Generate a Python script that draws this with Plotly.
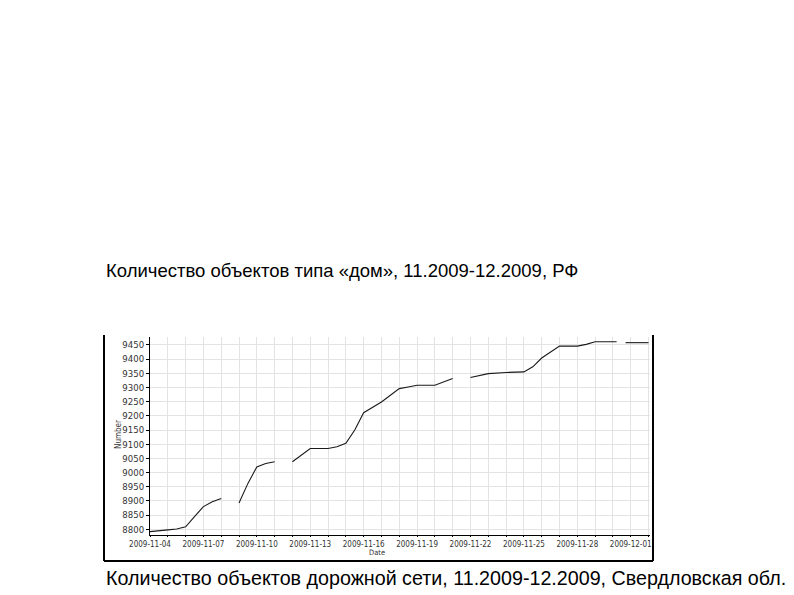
import plotly.graph_objects as go

# data (None = gap in the line)
dates = [
    "2009-11-04", "2009-11-04 12:00", "2009-11-05", "2009-11-05 12:00",
    "2009-11-06", "2009-11-06 12:00", "2009-11-07", "2009-11-07 12:00",
    "2009-11-08", "2009-11-08 12:00", "2009-11-09", "2009-11-09 12:00",
    "2009-11-10", "2009-11-10 12:00", "2009-11-11", "2009-11-11 12:00",
    "2009-11-12", "2009-11-12 12:00", "2009-11-13", "2009-11-13 12:00",
    "2009-11-14", "2009-11-14 12:00", "2009-11-15", "2009-11-15 12:00",
    "2009-11-16", "2009-11-17", "2009-11-18", "2009-11-18 12:00",
    "2009-11-19", "2009-11-20", "2009-11-21", "2009-11-21 12:00",
    "2009-11-22", "2009-11-23", "2009-11-24", "2009-11-24 12:00",
    "2009-11-25", "2009-11-25 12:00", "2009-11-26", "2009-11-27",
    "2009-11-28", "2009-11-28 12:00", "2009-11-29", "2009-11-30",
    "2009-11-30 05:00", "2009-11-30 10:00", "2009-11-30 17:00", "2009-12-01",
    "2009-12-02",
]
counts = [
    8792, 8794, 8798, 8801,
    8809, 8845, 8880, 8897,
    8909, None, 8893, 8962,
    9020, 9032, 9038, None,
    9038, 9062, 9085, 9085,
    9085, 9091, 9103, 9150,
    9211, 9249, 9296, 9302,
    9308, 9308, 9332, None,
    9335, 9349, 9353, 9353,
    9355, 9373, 9404, 9446,
    9446, 9452, 9461, 9461,
    9461, None, 9458, 9458,
    9458,
]

tick_days = ["2009-11-%02d" % d for d in range(4, 31)] + ["2009-12-01", "2009-12-02"]
tick_labels = ["2009-11-04", "2009-11-07", "2009-11-10", "2009-11-13", "2009-11-16",
               "2009-11-19", "2009-11-22", "2009-11-25", "2009-11-28", "2009-12-01"]
y_ticks = list(range(8800, 9451, 50))

W, H = 794, 595
OFF = 8  # the page body margin shifts the figure by 8px


def px(x):
    return (x - OFF) / W


def py(y):
    return 1 - (y - OFF) / H


fig = go.Figure()
fig.add_trace(go.Scatter(x=dates, y=counts, mode="lines", connectgaps=False,
                         line=dict(color="#1a1a1a", width=1.1), showlegend=False))

fig.update_xaxes(
    type="date", range=["2009-11-04", "2009-12-02 02:00"],
    domain=[px(150), px(650)],
    tickvals=tick_days,
    ticktext=[t if t in tick_labels else "" for t in tick_days],
    ticks="outside", ticklen=1, tickcolor="#000",
    showgrid=True, gridcolor="#e3e3e3", gridwidth=1,
    showline=True, linecolor="#000", linewidth=1,
    tickfont=dict(family="DejaVu Sans Condensed", size=8, color="#333"),
    zeroline=False, automargin=False,
)
fig.update_yaxes(
    range=[8780, 9478],
    domain=[py(535), py(337)],
    tickvals=y_ticks,
    ticks="outside", ticklen=3, tickcolor="#000",
    showgrid=True, gridcolor="#e3e3e3", gridwidth=1,
    showline=True, linecolor="#000", linewidth=1,
    tickfont=dict(family="DejaVu Sans Condensed", size=9.5, color="#333"),
    zeroline=False, automargin=False,
)

# frame of the embedded chart picture
for x0, y0, x1, y1 in [(104, 335, 104, 561), (104, 561, 653, 561), (653, 335, 653, 561)]:
    fig.add_shape(type="line", xref="paper", yref="paper",
                  x0=px(x0), x1=px(x1), y0=py(y0), y1=py(y1),
                  line=dict(color="#000", width=2))

fig.add_annotation(text="Date", xref="paper", yref="paper", x=px(377), y=py(557.5),
                   showarrow=False, borderpad=0,
                   font=dict(family="DejaVu Sans Condensed", size=7.5, color="#333"))
fig.add_annotation(text="Number", xref="paper", yref="paper", x=px(112), y=py(451),
                   textangle=-90, showarrow=False,
                   font=dict(family="DejaVu Sans Condensed", size=8, color="#333"))

fig.add_annotation(text="Количество объектов типа «дом», 11.2009-12.2009, РФ",
                   xref="paper", yref="paper", x=px(104), y=py(270),
                   xanchor="left", yanchor="middle", showarrow=False,
                   font=dict(family="Liberation Sans", size=18.5, color="#000"))
fig.add_annotation(text="Количество объектов дорожной сети, 11.2009-12.2009, Свердловская обл.",
                   xref="paper", yref="paper", x=px(104), y=py(578),
                   xanchor="left", yanchor="middle", showarrow=False,
                   font=dict(family="Liberation Sans", size=19.7, color="#000"))

fig.update_layout(width=W, height=H, margin=dict(l=0, r=0, t=0, b=0),
                  paper_bgcolor="white", plot_bgcolor="white")

fig.write_html("out.html")
